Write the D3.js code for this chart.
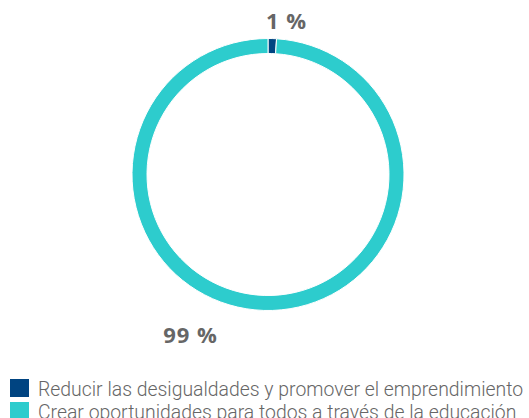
<!DOCTYPE html>
<html><head><meta charset="utf-8">
<script src="https://cdn.jsdelivr.net/npm/d3@7"></script>
<style>html,body{margin:0;padding:0;background:#fff;}svg{display:block;}</style>
</head><body>
<svg id="c" width="529" height="418"></svg>
<script>
const categories = ["Reducir las desigualdades y promover el emprendimiento", "Crear oportunidades para todos a través de la educación"];
const values = [1, 99];
const labels = ["1 %", "99 %"];
const colors = ["#004481", "#2dcccd"];

const svg = d3.select("#c");
const cx = 268, cy = 174.5, outerR = 136, innerR = 121;
const pie = d3.pie().sort(null).value(d => d)(values);
const arc = d3.arc().innerRadius(innerR).outerRadius(outerR);
const g = svg.append("g").attr("transform", `translate(${cx},${cy})`);
g.selectAll("path").data(pie).join("path")
  .attr("d", arc).attr("fill", (d, i) => colors[i])
  .attr("stroke", "#fff").attr("stroke-width", 1);

// data labels
const labelPos = [[18.5, -146], [-77.5, 168.5]];
g.selectAll("text.lbl").data(pie).join("text").attr("class", "lbl")
  .attr("x", (d, i) => labelPos[i][0]).attr("y", (d, i) => labelPos[i][1])
  .attr("text-anchor", "middle")
  .style("font-family", "'Open Sans', sans-serif").style("font-weight", 700)
  .style("font-size", "22px").style("letter-spacing", "0.9px").attr("fill", "#666")
  .text((d, i) => labels[i]);

// legend
const leg = svg.append("g");
const items = leg.selectAll("g").data(categories).join("g")
  .attr("transform", (d, i) => `translate(10,${379 + i * 23})`);
items.append("rect").attr("width", 19).attr("height", 18).attr("fill", (d, i) => colors[i]);
items.append("text").attr("x", 28).attr("y", 17)
  .style("font-family", "Roboto, sans-serif").style("font-weight", 300)
  .style("font-size", "19.4px").attr("fill", "#666")
  .text(d => d);
</script>
</body></html>
